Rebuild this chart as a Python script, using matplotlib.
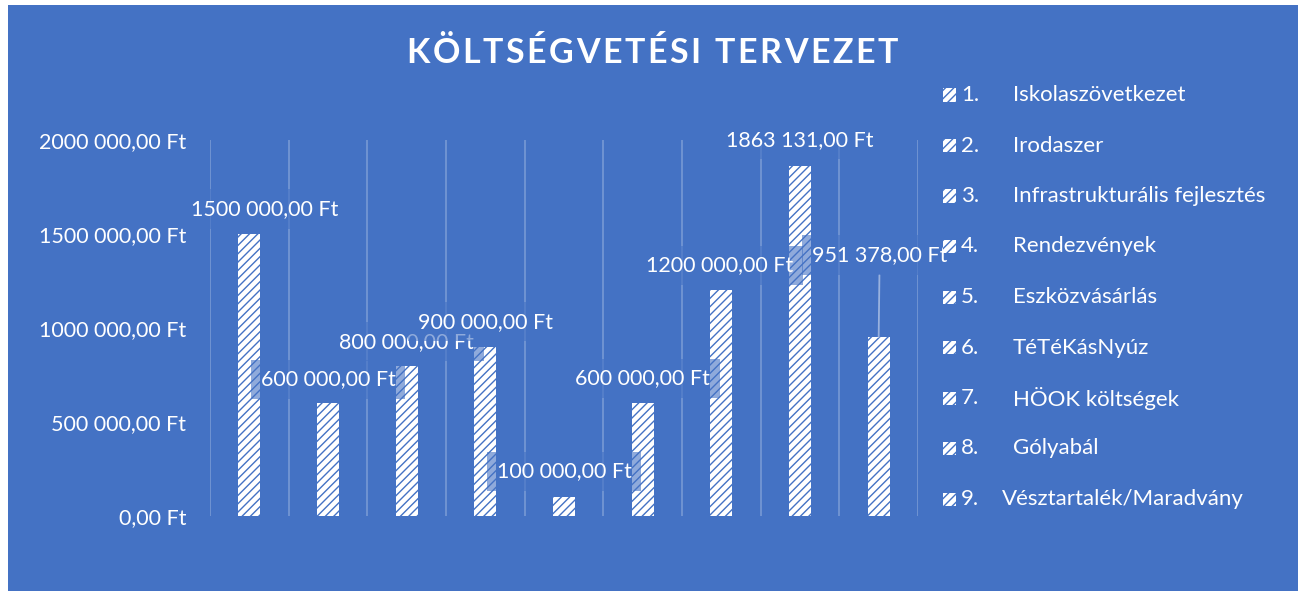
import numpy as np
import matplotlib.pyplot as plt
from matplotlib.patches import Rectangle

plt.rcParams['font.family'] = ['Lato', 'DejaVu Sans']
plt.rcParams['hatch.linewidth'] = 1.0

# data
numbers = ['1.', '2.', '3.', '4.', '5.', '6.', '7.', '8.', '9.']
categories = ['Iskolaszövetkezet', 'Irodaszer', 'Infrastrukturális fejlesztés',
              'Rendezvények', 'Eszközvásárlás', 'TéTéKásNyúz', 'HÖOK költségek',
              'Gólyabál', 'Vésztartalék/Maradvány']
values = [1500000, 600000, 800000, 900000, 100000, 600000, 1200000, 1863131, 951378]
y_ticks = [0, 500000, 1000000, 1500000, 2000000]
title = 'KÖLTSÉGVETÉSI TERVEZET'

BLUE = '#4472C4'
W, H = 1300, 591
FS = 15.5


def ft(v):
    # Hungarian currency format as in the chart: "1863 131,00 Ft"
    n = int(round(v * 100))
    whole, cents = divmod(n, 100)
    if whole >= 1000:
        s = f"{whole // 1000} {whole % 1000:03d}"
    else:
        s = str(whole)
    return f"{s},{cents:02d} Ft"


fig = plt.figure(figsize=(13, 5.91), dpi=100)
fig.patch.set_facecolor('white')
fig.add_artist(Rectangle((8 / W, 0), 1290 / W, 586 / H, transform=fig.transFigure,
                         facecolor=BLUE, edgecolor='none', zorder=-10))

ax = fig.add_axes([210 / W, 75 / H, 708 / W, 376 / H])
ax.set_facecolor('none')
x = np.arange(len(values))
ax.bar(x, values, width=0.28, facecolor='white', edgecolor=BLUE, hatch='////',
       linewidth=0, zorder=2)
ax.set_xlim(-0.5, len(values) - 0.5)
ax.set_ylim(0, 2000000)
ax.set_yticks(y_ticks)
ax.set_yticklabels([ft(v) for v in y_ticks], color='white', fontsize=FS)
ax.tick_params(axis='y', length=0, pad=17)
ax.set_xticks([])
ax.set_xticks(np.arange(-0.5, len(values)), minor=True)
ax.tick_params(axis='x', which='both', length=0, labelbottom=False)
ax.grid(which='minor', axis='x', color='white', alpha=0.25, linewidth=1.3)
ax.set_axisbelow(True)
for s in ax.spines.values():
    s.set_visible(False)

# data labels (offsets in pixels from bar top)
offsets = [(15, 25), (0, 24), (0, 24), (0, 25), (0, 26), (0, 25), (-2, 25), (0, 26), (1, 82)]
for i, (v, (dx, dy)) in enumerate(zip(values, offsets)):
    arrow = None
    if dy > 50:
        arrow = dict(arrowstyle='-', color=(1, 1, 1, 0.45), lw=1.3, shrinkA=0, shrinkB=0)
    ax.annotate(ft(v), (i, v), xytext=(dx, dy), textcoords='offset pixels',
                ha='center', va='center', color='white', fontsize=FS,
                bbox=dict(boxstyle='square,pad=0.45', facecolor=BLUE,
                          edgecolor='none', alpha=0.6),
                arrowprops=arrow, zorder=3)

# legend
for i, (num, cat) in enumerate(zip(numbers, categories)):
    yc = 95 + 50.5 * i
    fig.add_artist(Rectangle((943 / W, 1 - (yc + 6.5) / H), 13 / W, 13 / H,
                             transform=fig.transFigure, facecolor='white',
                             edgecolor=BLUE, hatch='////', linewidth=0))
    fig.text(961 / W, 1 - yc / H, num, color='white', fontsize=16, va='center')
    lx = 1013 if i < 8 else 1002
    fig.text(lx / W, 1 - yc / H, cat, color='white', fontsize=16, va='center')

# title with letter spacing
r = fig.canvas.get_renderer()
tkw = dict(fontsize=24.5, fontweight='bold', color='white')


def text_w(s):
    t = fig.text(0, 0, s, **tkw)
    w = t.get_window_extent(r).width
    t.remove()
    return w


bar_w = text_w('||')
adv = [text_w('|' + ch + '|') - bar_w for ch in title]
gap = 2.6
total = sum(adv) + gap * (len(title) - 1)
xpos = 652 - total / 2
for ch, a in zip(title, adv):
    fig.text(xpos / W, 1 - 63 / H, ch, ha='left', va='baseline', **tkw)
    xpos += a + gap

fig.savefig('out.png', dpi=100, facecolor=fig.get_facecolor())
